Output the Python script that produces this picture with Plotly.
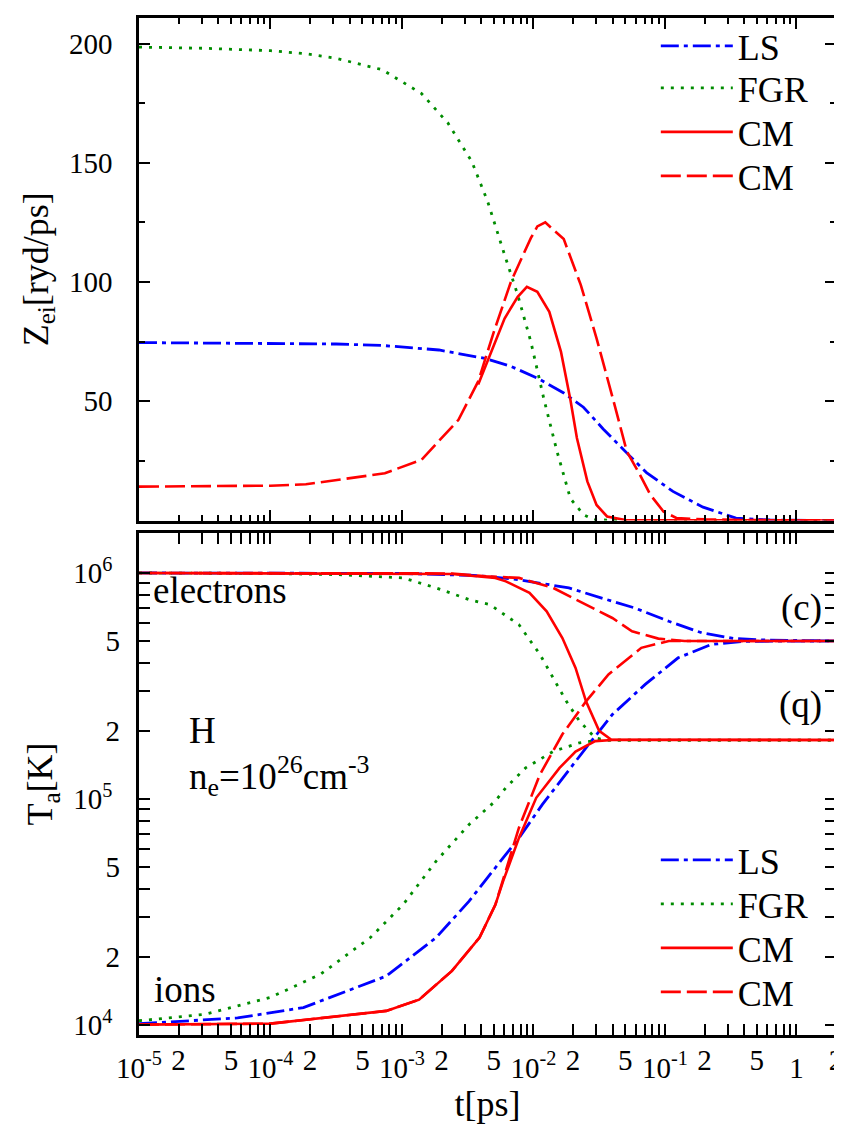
import plotly.graph_objects as go

# ---------------- data ----------------
# top panel: Z_ei [ryd/ps] vs t [ps]
t_ls_z = [1e-5, 1e-4, 3.16e-4, 7.08e-4, 1.91e-3, 4.27e-3, 6.76e-3, 1.07e-2, 1.70e-2, 2.40e-2,
          3.39e-2, 5.37e-2, 7.24e-2, 0.115, 0.195, 0.347, 0.631, 2.0]
z_ls = [74.6, 74.4, 74.0, 73.4, 71.5, 68.0, 64.6, 59.7, 53.5, 47.5,
        38.4, 27.2, 20.1, 12.2, 5.6, 1.0, 0.2, 0.0]

t_fgr_z = [1e-5, 3.16e-5, 1e-4, 1.86e-4, 3.16e-4, 7.08e-4, 1.41e-3, 2.24e-3, 3.39e-3, 4.47e-3,
           6.03e-3, 7.59e-3, 9.55e-3, 1.20e-2, 1.51e-2, 1.91e-2, 2.40e-2, 2.88e-2, 5.01e-2, 2.0]
z_fgr = [198.5, 198.0, 197.0, 195.7, 193.8, 189.0, 179.0, 166.6, 150.6, 134.0,
         111.4, 94.6, 75.0, 51.0, 29.0, 9.2, 2.5, 0.3, 0.0, 0.0]

t_cms_z = [3.80e-3, 4.47e-3, 6.03e-3, 7.59e-3, 8.91e-3, 1.07e-2, 1.32e-2, 1.62e-2, 1.91e-2, 2.14e-2,
           2.57e-2, 3.02e-2, 3.63e-2, 5.01e-2, 2.0]
z_cms = [57.0, 66.7, 84.7, 93.8, 98.0, 95.9, 87.5, 70.7, 50.6, 34.6,
         16.4, 6.5, 1.7, 0.2, 0.0]

t_cmd_z = [1e-5, 3.16e-5, 1e-4, 1.86e-4, 7.41e-4, 1.41e-3, 2.69e-3, 3.80e-3, 5.01e-3, 6.76e-3,
           9.55e-3, 1.07e-2, 1.23e-2, 1.41e-2, 1.70e-2, 2.29e-2, 3.02e-2, 4.07e-2, 5.13e-2, 6.46e-2,
           7.76e-2, 9.77e-2, 0.123, 0.200, 0.398, 2.0]
z_cmd = [14.2, 14.3, 14.6, 15.2, 19.8, 25.5, 42.2, 58.3, 79.3, 100.3,
         118.4, 123.3, 125.0, 122.0, 118.0, 98.8, 76.4, 50.0, 29.0, 19.1,
         10.7, 3.7, 1.0, 0.5, 0.2, 0.0]

# bottom panel: T_a [K] vs t [ps]   (e = electrons, i = ions)
t_ls_e = [1e-5, 1e-3, 3.24e-3, 4.37e-3, 7.76e-3, 1.86e-2, 3.31e-2, 5.89e-2, 0.107, 0.191, 0.339, 0.631, 2.0]
T_ls_e = [1.0e6, 9.95e5, 9.77e5, 9.66e5, 9.33e5, 8.59e5, 7.74e5, 7.00e5, 6.11e5, 5.43e5, 5.12e5, 5.04e5, 5.0e5]
t_ls_i = [1e-5, 5.62e-5, 1.78e-4, 7.59e-4, 1.82e-3, 3.24e-3, 4.37e-3, 7.76e-3, 1.17e-2, 1.78e-2,
          2.51e-2, 3.98e-2, 7.08e-2, 0.126, 0.224, 0.398, 2.0]
T_ls_i = [1.01e4, 1.07e4, 1.19e4, 1.64e4, 2.43e4, 3.52e4, 4.40e4, 6.71e4, 9.44e4, 1.30e5,
          1.68e5, 2.36e5, 3.21e5, 4.21e5, 4.82e5, 4.98e5, 5.0e5]

t_fgr_e = [1e-5, 1e-4, 3.16e-4, 1.02e-3, 1.82e-3, 3.24e-3, 4.68e-3, 7.76e-3, 1.12e-2, 1.41e-2,
           1.78e-2, 2.24e-2, 2.95e-2, 3.55e-2, 2.0]
T_fgr_e = [1.0e6, 9.95e5, 9.84e5, 9.51e5, 8.59e5, 7.62e5, 7.24e5, 5.90e5, 4.36e5, 3.43e5,
           2.70e5, 2.21e5, 1.86e5, 1.82e5, 1.82e5]
t_fgr_i = [1e-5, 3.16e-5, 1e-4, 2.40e-4, 5.75e-4, 1.02e-3, 1.82e-3, 3.24e-3, 5.13e-3, 6.17e-3,
           8.71e-3, 1.41e-2, 2.24e-2, 2.95e-2, 3.55e-2, 2.0]
T_fgr_i = [1.04e4, 1.11e4, 1.32e4, 1.67e4, 2.43e4, 3.40e4, 5.30e4, 7.69e4, 9.77e4, 1.12e5,
           1.37e5, 1.62e5, 1.77e5, 1.81e5, 1.82e5, 1.82e5]

t_cms_e = [1e-5, 2.40e-3, 5.13e-3, 6.17e-3, 9.33e-3, 1.26e-2, 1.66e-2, 2.09e-2, 2.51e-2, 3.16e-2, 3.89e-2, 2.0]
T_cms_e = [1.0e6, 9.89e5, 9.51e5, 9.18e5, 8.17e5, 6.76e5, 5.15e5, 3.80e5, 2.70e5, 2.0e5, 1.83e5, 1.82e5]
t_cms_i = [1e-5, 1e-4, 7.59e-4, 1.35e-3, 2.40e-3, 3.89e-3, 5.13e-3, 5.89e-3, 7.76e-3, 1.05e-2,
           1.58e-2, 2.09e-2, 2.95e-2, 3.98e-2, 2.0]
T_cms_i = [1.0e4, 1.01e4, 1.15e4, 1.29e4, 1.73e4, 2.43e4, 3.39e4, 4.33e4, 6.71e4, 1.01e5,
           1.37e5, 1.62e5, 1.80e5, 1.82e5, 1.82e5]

t_cmd_e = [1e-5, 2.40e-3, 4.37e-3, 7.76e-3, 1.41e-2, 2.51e-2, 3.98e-2, 5.62e-2, 8.91e-2, 0.141, 2.0]
T_cmd_e = [1.0e6, 9.95e5, 9.66e5, 9.51e5, 8.59e5, 7.24e5, 6.32e5, 5.52e5, 5.12e5, 5.0e5, 5.0e5]
t_cmd_i = [1e-5, 1e-4, 7.59e-4, 1.35e-3, 2.40e-3, 3.89e-3, 5.13e-3, 6.17e-3, 7.76e-3, 1.12e-2,
           1.66e-2, 2.51e-2, 3.72e-2, 6.61e-2, 0.107, 2.0]
T_cmd_i = [1.0e4, 1.01e4, 1.15e4, 1.29e4, 1.73e4, 2.43e4, 3.39e4, 4.79e4, 7.45e4, 1.28e5,
           1.93e5, 2.70e5, 3.55e5, 4.66e5, 5.0e5, 5.0e5]

series_names = ["LS", "FGR", "CM", "CM"]

# tick labels
x_dec_vals = [1e-5, 1e-4, 1e-3, 1e-2, 1e-1, 1]
x_dec_text = ["10<sup>-5</sup>", "10<sup>-4</sup>", "10<sup>-3</sup>", "10<sup>-2</sup>", "10<sup>-1</sup>", "1"]
x_sub_vals = [2e-5, 5e-5, 2e-4, 5e-4, 2e-3, 5e-3, 2e-2, 5e-2, 2e-1, 5e-1, 2]
x_sub_text = ["2", "5", "2", "5", "2", "5", "2", "5", "2", "5", "2"]
z_tick_vals = [50, 100, 150, 200]
z_minor_vals = [25, 75, 125, 175]
T_dec_vals = [1e4, 1e5, 1e6]
T_dec_text = ["10<sup>4</sup>", "10<sup>5</sup>", "10<sup>6</sup>"]
T_sub_vals = [2e4, 5e4, 2e5, 5e5]
T_sub_text = ["2", "5", "2", "5"]

# ---------------- styling ----------------
FONT = "Liberation Serif"
BLUE, GREEN, RED = "#0000ff", "#008c00", "#ff0000"
D_LS, D_FGR, D_CMD = "18px,5px,4px,5px", "3px,7px", "20px,6px"

x_minor = [k * 10.0 ** n for n in range(-5, 0) for k in range(2, 10)] + [2.0]
T_minor = [k * 10.0 ** n for n in (4, 5) for k in range(2, 10)]
XR = [-5, 0.30103]
YR2 = [3.954, 6.177]

fig = go.Figure()


def add(t, v, name, color, dash, width, xa, ya, leg):
    fig.add_trace(go.Scatter(
        x=t, y=v, mode="lines", name=name,
        line=dict(color=color, dash=dash, width=width),
        xaxis=xa, yaxis=ya, legend=leg if leg else "legend",
        showlegend=bool(leg), hoverinfo="skip"))


# top panel
add(t_ls_z, z_ls, series_names[0], BLUE, D_LS, 2.8, "x", "y", "legend")
add(t_fgr_z, z_fgr, series_names[1], GREEN, D_FGR, 2.8, "x", "y", "legend2")
add(t_cms_z, z_cms, series_names[2], RED, "solid", 2.6, "x", "y", "legend3")
add(t_cmd_z, z_cmd, series_names[3], RED, D_CMD, 2.6, "x", "y", "legend4")
# bottom panel
add(t_ls_e, T_ls_e, series_names[0], BLUE, D_LS, 2.8, "x2", "y2", "legend5")
add(t_ls_i, T_ls_i, series_names[0], BLUE, D_LS, 2.8, "x2", "y2", None)
add(t_fgr_e, T_fgr_e, series_names[1], GREEN, D_FGR, 2.8, "x2", "y2", "legend6")
add(t_fgr_i, T_fgr_i, series_names[1], GREEN, D_FGR, 2.8, "x2", "y2", None)
add(t_cms_e, T_cms_e, series_names[2], RED, "solid", 2.6, "x2", "y2", "legend7")
add(t_cms_i, T_cms_i, series_names[2], RED, "solid", 2.6, "x2", "y2", None)
add(t_cmd_e, T_cmd_e, series_names[3], RED, D_CMD, 2.6, "x2", "y2", "legend8")
add(t_cmd_i, T_cmd_i, series_names[3], RED, D_CMD, 2.6, "x2", "y2", None)
# empty carriers so the label-only overlay axes (2 / 5 tick labels) get drawn
fig.add_trace(go.Scatter(x=[], y=[], xaxis="x3", yaxis="y2", showlegend=False, hoverinfo="skip"))
fig.add_trace(go.Scatter(x=[], y=[], xaxis="x2", yaxis="y3", showlegend=False, hoverinfo="skip"))

W, H = 842, 1131
ML, MR, MT, MB = 131, 7, 10, 104
PH = H - MT - MB
PW = W - ML - MR


def py(ypx):
    return (H - MB - ypx) / PH


def px(xpx):
    return (xpx - ML) / PW


axis_common = dict(showline=True, linecolor="black", linewidth=2.5, mirror="allticks",
                   ticks="inside", ticklen=11, tickwidth=2.2, tickcolor="black",
                   showgrid=False, zeroline=False,
                   tickfont=dict(family=FONT, size=29, color="black"))
minor_common = dict(tickmode="array", ticks="inside", ticklen=6, tickwidth=2.0, tickcolor="black")

legend_y = [38, 80, 124, 168, 852, 896, 940, 984]
legend_x = px(653)

layout = dict(
    width=W, height=H, margin=dict(l=ML, r=MR, t=MT, b=MB),
    paper_bgcolor="white", plot_bgcolor="white",
    font=dict(family=FONT, size=29, color="black"),
    xaxis=dict(type="log", range=XR, domain=[0, 1], anchor="y",
               tickmode="array", tickvals=x_dec_vals, showticklabels=False,
               minor=dict(tickvals=x_minor, **minor_common),
               **axis_common),
    yaxis=dict(range=[0, 210.7], domain=[py(512.5), 1], anchor="x",
               tickmode="array", tickvals=z_tick_vals, ticklabelstandoff=18,
               minor=dict(tickvals=z_minor_vals, **minor_common),
               title=dict(text="Z<sub>ei</sub>[ryd/ps]", font=dict(family=FONT, size=36), standoff=10),
               **axis_common),
    xaxis2=dict(type="log", range=XR, domain=[0, 1], anchor="y2",
                tickmode="array", tickvals=x_dec_vals, ticktext=x_dec_text, ticklabelstandoff=5,
                minor=dict(tickvals=x_minor, **minor_common),
                title=dict(text="t[ps]", font=dict(family=FONT, size=36), standoff=8),
                **axis_common),
    yaxis2=dict(type="log", range=YR2, domain=[0, py(525)], anchor="x2",
                tickmode="array", tickvals=T_dec_vals, ticktext=T_dec_text, ticklabelstandoff=18,
                minor=dict(tickvals=T_minor, **minor_common),
                title=dict(text="T<sub>a</sub>[K]", font=dict(family=FONT, size=36), standoff=10),
                **axis_common),
    xaxis3=dict(type="log", range=XR, overlaying="x2", anchor="y2", side="bottom",
                tickmode="array", tickvals=x_sub_vals, ticktext=x_sub_text, ticks="",
                showline=False, showgrid=False, zeroline=False, ticklabelstandoff=5,
                ticklabeloverflow="allow",
                tickfont=dict(family=FONT, size=29, color="black")),
    yaxis3=dict(type="log", range=YR2, overlaying="y2", anchor="x2", side="left",
                tickmode="array", tickvals=T_sub_vals, ticktext=T_sub_text, ticks="",
                showline=False, showgrid=False, zeroline=False, ticklabelstandoff=18,
                tickfont=dict(family=FONT, size=29, color="black")),
    showlegend=True,
)

for i, yv in enumerate(legend_y):
    key = "legend" if i == 0 else f"legend{i + 1}"
    layout[key] = dict(x=legend_x, y=py(yv), xanchor="left", yanchor="middle",
                       bgcolor="rgba(0,0,0,0)", borderwidth=0, itemwidth=72,
                       font=dict(family=FONT, size=36, color="black"))

fig.update_layout(**layout)

ann_font = dict(family=FONT, size=37, color="black")
notes = [
    ("electrons", 143, 582, "left"),
    ("ions", 144, 981, "left"),
    ("H", 179, 722, "left"),
    ("n<sub>e</sub>=10<sup>26</sup>cm<sup>-3</sup>", 179, 768, "left"),
    ("(c)", 823, 600, "right"),
    ("(q)", 823, 697, "right"),
]
for txt, xx, yy, anc in notes:
    fig.add_annotation(text=txt, x=(xx - ML) / PW, y=(1027 - yy) / 502.0,
                       xref="x2 domain", yref="y2 domain", xanchor=anc, yanchor="middle",
                       showarrow=False, font=ann_font)

fig.write_html("out.html")
